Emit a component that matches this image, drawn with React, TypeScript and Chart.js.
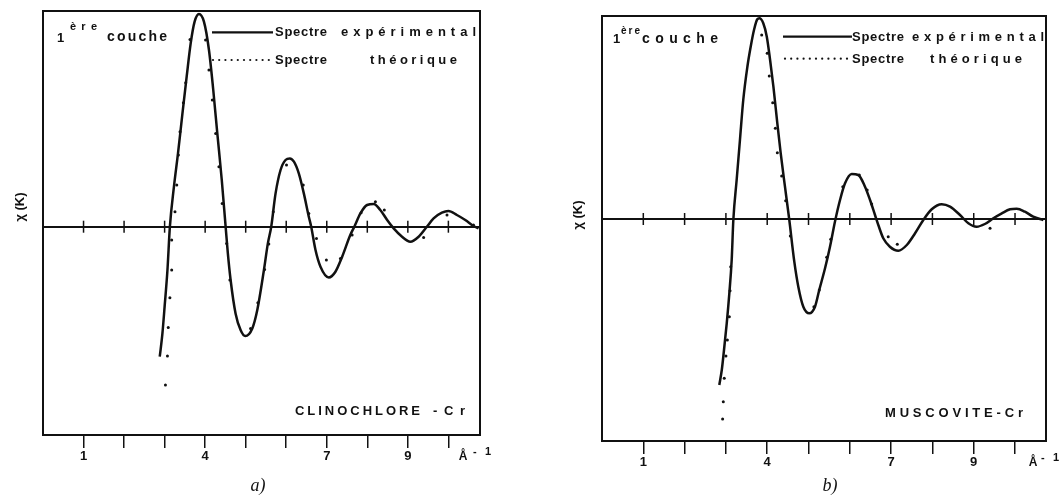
import React, { useEffect, useRef } from "react";
import { Chart, registerables } from "chart.js";
Chart.register(...registerables);

// ---------- data ----------
const K_TICKS = [1, 2, 3, 4, 5, 6, 7, 8, 9, 10];
const K_LABELS = [1, 4, 7, 9];

// Panel a) CLINOCHLORE-Cr
const A_K_EXP = [2.88, 2.946, 3.0, 3.07, 3.13, 3.23, 3.33, 3.44, 3.544, 3.643, 3.74, 3.848, 3.97, 4.094, 4.2, 4.3, 4.41, 4.505, 4.56, 4.628, 4.75, 4.874, 4.99, 5.163, 5.286, 5.45, 5.547, 5.63, 5.737, 5.86, 5.983, 6.09, 6.19, 6.31, 6.434, 6.557, 6.616, 6.722, 6.845, 7.05, 7.214, 7.38, 7.58, 7.68, 7.83, 7.995, 8.16, 8.32, 8.49, 8.65, 8.857, 9.06, 9.266, 9.47, 9.635, 9.84, 10.0, 10.21, 10.417, 10.62, 10.745];
const A_CHI_EXP = [-1.3, -1.067, -0.8, -0.433, 0, 0.4, 0.733, 1.133, 1.5, 1.833, 2.05, 2.127, 2.05, 1.767, 1.367, 0.933, 0.467, 0, -0.267, -0.533, -0.867, -1.033, -1.093, -1.017, -0.833, -0.433, -0.167, 0, 0.333, 0.567, 0.667, 0.683, 0.65, 0.533, 0.333, 0.1, 0, -0.233, -0.4, -0.507, -0.45, -0.3, -0.083, 0, 0.133, 0.217, 0.227, 0.167, 0.067, -0.017, -0.1, -0.15, -0.1, 0, 0.083, 0.14, 0.157, 0.117, 0.067, 0.007, -0.017];
const A_K_TH = [3.02, 3.07, 3.09, 3.13, 3.175, 3.175, 3.256, 3.3, 3.34, 3.38, 3.463, 3.52, 3.626, 4.01, 4.094, 4.177, 4.26, 4.34, 4.42, 4.53, 4.61, 5.12, 5.3, 5.466, 5.57, 5.68, 6.007, 6.42, 6.557, 6.746, 6.99, 7.337, 7.625, 7.847, 8.2, 8.42, 9.39, 9.966, 10.62];
const A_CHI_TH = [-1.583, -1.293, -1.007, -0.71, -0.433, -0.133, 0.15, 0.417, 0.717, 0.95, 1.24, 1.44, 1.873, 1.867, 1.567, 1.267, 0.933, 0.6, 0.233, -0.167, -0.533, -1.017, -0.76, -0.427, -0.173, 0.15, 0.617, 0.417, 0.133, -0.117, -0.333, -0.317, -0.083, 0.14, 0.25, 0.167, -0.107, 0.117, 0.017];

// Panel b) MUSCOVITE-Cr
const B_K_EXP = [2.84, 2.9, 2.954, 3.02, 3.083, 3.14, 3.18, 3.26, 3.34, 3.42, 3.52, 3.6, 3.68, 3.76, 3.81, 3.905, 3.99, 4.07, 4.15, 4.245, 4.327, 4.43, 4.535, 4.656, 4.753, 4.874, 5.02, 5.157, 5.26, 5.4, 5.52, 5.64, 5.763, 5.884, 6.045, 6.206, 6.368, 6.49, 6.61, 6.69, 6.81, 6.97, 7.175, 7.38, 7.58, 7.78, 7.983, 8.225, 8.426, 8.668, 8.87, 9.07, 9.27, 9.475, 9.68, 9.88, 10.04, 10.24, 10.44, 10.686];
const B_CHI_EXP = [-1.66, -1.51, -1.31, -1.043, -0.743, -0.41, -0.01, 0.39, 0.79, 1.19, 1.523, 1.723, 1.89, 1.997, 2.007, 1.957, 1.823, 1.59, 1.323, 0.957, 0.657, 0.323, -0.01, -0.427, -0.677, -0.877, -0.943, -0.877, -0.71, -0.493, -0.277, -0.027, 0.19, 0.357, 0.45, 0.44, 0.323, 0.19, 0.04, -0.06, -0.193, -0.277, -0.317, -0.26, -0.143, -0.01, 0.097, 0.147, 0.123, 0.04, -0.043, -0.077, -0.05, 0.007, 0.057, 0.097, 0.103, 0.073, 0.023, -0.01];
const B_K_TH = [2.92, 2.937, 2.96, 3.0, 3.035, 3.083, 3.1, 3.116, 3.867, 4.0, 4.05, 4.133, 4.197, 4.245, 4.35, 4.447, 4.56, 5.13, 5.26, 5.44, 5.537, 5.83, 6.23, 6.42, 6.53, 6.93, 7.15, 9.395];
const B_CHI_TH = [-2.0, -1.827, -1.593, -1.37, -1.21, -0.977, -0.717, -0.477, 1.84, 1.657, 1.43, 1.163, 0.907, 0.663, 0.43, 0.183, -0.17, -0.877, -0.71, -0.383, -0.203, 0.323, 0.44, 0.29, 0.15, -0.177, -0.253, -0.093];

const A_Y_RANGE = [-2.083, 2.157];
const B_Y_RANGE = [-2.22, 2.03];
const K_RANGE_A = [0, 10.78];
const K_RANGE_B = [0, 10.75];

// ---------- helpers ----------
const SANS = '"Liberation Sans", Arial, sans-serif';
const SERIF = '"Liberation Serif", "Times New Roman", serif';

type TextItem = { t: string; x0: number; x1?: number; y: number; size: number; center?: boolean };
type Panel = {
  left: number;
  width: number;
  area: { l: number; t: number; r: number; b: number };
  kRange: number[];
  yRange: number[];
  kExp: number[];
  chiExp: number[];
  kTh: number[];
  chiTh: number[];
  solid: number[];
  dotted: number[];
  texts: TextItem[];
  yTitle: number[];
  caption: number[];
  captionText: string;
};

function fitText(ctx: CanvasRenderingContext2D, it: TextItem) {
  ctx.font = `bold ${it.size}px ${SANS}`;
  ctx.textBaseline = "middle";
  ctx.textAlign = "left";
  const chars = Array.from(it.t);
  const widths = chars.map((c) => ctx.measureText(c).width);
  const total = widths.reduce((a, b) => a + b, 0);
  if (it.center || it.x1 === undefined || chars.length < 2) {
    const x = it.center ? it.x0 - total / 2 : it.x0;
    ctx.fillText(it.t, x, it.y);
    return;
  }
  const gap = (it.x1 - it.x0 - total) / (chars.length - 1);
  let x = it.x0;
  chars.forEach((c, i) => {
    ctx.fillText(c, x, it.y);
    x += widths[i] + gap;
  });
}

const PANELS: Panel[] = [
  {
    left: 0,
    width: 530,
    area: { l: 43, t: 11, r: 480, b: 435 },
    kRange: K_RANGE_A,
    yRange: A_Y_RANGE,
    kExp: A_K_EXP,
    chiExp: A_CHI_EXP,
    kTh: A_K_TH,
    chiTh: A_CHI_TH,
    solid: [212, 273, 32.3],
    dotted: [213, 272, 60],
    texts: [
      { t: "Spectre", x0: 275, x1: 327, y: 32, size: 13 },
      { t: "expérimental", x0: 341, x1: 476, y: 32, size: 13 },
      { t: "Spectre", x0: 275, x1: 327, y: 60, size: 13 },
      { t: "théorique", x0: 370, x1: 457, y: 60, size: 13 },
      { t: "1", x0: 57, y: 38, size: 13 },
      { t: "ère", x0: 70, x1: 97, y: 27, size: 11 },
      { t: "couche", x0: 107, x1: 167, y: 37.5, size: 14 },
      { t: "CLINOCHLORE", x0: 295, x1: 420, y: 411, size: 13 },
      { t: "-Cr", x0: 433, x1: 465, y: 411, size: 13 },
      { t: "Å", x0: 463, y: 457, size: 12, center: true },
      { t: "- 1", x0: 473, x1: 491, y: 452, size: 11 },
    ],
    yTitle: [20, 207],
    caption: [258, 491],
    captionText: "a)",
  },
  {
    left: 530,
    width: 529,
    area: { l: 72, t: 16, r: 516, b: 441 },
    kRange: K_RANGE_B,
    yRange: B_Y_RANGE,
    kExp: B_K_EXP,
    chiExp: B_CHI_EXP,
    kTh: B_K_TH,
    chiTh: B_CHI_TH,
    solid: [253, 322, 36.7],
    dotted: [255, 321, 58.7],
    texts: [
      { t: "Spectre", x0: 322, x1: 374, y: 37, size: 13 },
      { t: "expérimental", x0: 382, x1: 514, y: 37, size: 13 },
      { t: "Spectre", x0: 322, x1: 374, y: 59, size: 13 },
      { t: "théorique", x0: 400, x1: 492, y: 59, size: 13 },
      { t: "1", x0: 83, y: 39, size: 13 },
      { t: "ère", x0: 91, x1: 110, y: 31.5, size: 10 },
      { t: "couche", x0: 112, x1: 188, y: 39, size: 14 },
      { t: "MUSCOVITE-Cr", x0: 355, x1: 493, y: 413, size: 13 },
      { t: "Å", x0: 503, y: 463, size: 12, center: true },
      { t: "- 1", x0: 511, x1: 529, y: 458, size: 11 },
    ],
    yTitle: [48, 215],
    caption: [300, 491],
    captionText: "b)",
  },
];

function PanelChart({ p }: { p: Panel }) {
  const ref = useRef<HTMLCanvasElement | null>(null);
  useEffect(() => {
    const canvas = ref.current;
    if (!canvas) return;
    const H = 497;
    const deco = {
      id: "deco",
      afterDraw(chart: any) {
        const ctx: CanvasRenderingContext2D = chart.ctx;
        ctx.save();
        ctx.fillStyle = "#111";
        ctx.strokeStyle = "#111";
        ctx.lineWidth = 2.2;
        ctx.beginPath();
        ctx.moveTo(p.solid[0], p.solid[2]);
        ctx.lineTo(p.solid[1], p.solid[2]);
        ctx.stroke();
        for (let x = p.dotted[0]; x <= p.dotted[1]; x += 6.2) {
          ctx.beginPath();
          ctx.arc(x, p.dotted[2], 1.1, 0, Math.PI * 2);
          ctx.fill();
        }
        p.texts.forEach((it) => fitText(ctx, it));
        ctx.save();
        ctx.translate(p.yTitle[0], p.yTitle[1]);
        ctx.rotate(-Math.PI / 2);
        ctx.font = `bold 13px ${SANS}`;
        ctx.textAlign = "center";
        ctx.textBaseline = "middle";
        ctx.fillText("χ (K)", 0, 0);
        ctx.restore();
        ctx.font = `italic 18px ${SERIF}`;
        ctx.textAlign = "center";
        ctx.textBaseline = "alphabetic";
        ctx.fillText(p.captionText, p.caption[0], p.caption[1]);
        ctx.restore();
      },
    };
    const chart = new Chart(canvas, {
      type: "scatter",
      data: {
        datasets: [
          {
            label: "Spectre expérimental",
            data: p.kExp.map((k, i) => ({ x: k, y: p.chiExp[i] })),
            showLine: true,
            borderColor: "#111",
            borderWidth: 2.5,
            pointRadius: 0,
            cubicInterpolationMode: "monotone",
          } as any,
          {
            label: "Spectre théorique",
            data: p.kTh.map((k, i) => ({ x: k, y: p.chiTh[i] })),
            showLine: false,
            pointRadius: 1.5,
            pointBackgroundColor: "#111",
            pointBorderWidth: 0,
          } as any,
          {
            label: "ticks",
            data: K_TICKS.map((k) => ({ x: k, y: 0 })),
            showLine: false,
            pointStyle: "line",
            rotation: 90,
            pointRadius: 6,
            borderColor: "#111",
            borderWidth: 1.5,
          } as any,
        ],
      },
      options: {
        responsive: false,
        animation: false,
        devicePixelRatio: 1,
        layout: { padding: 0 },
        plugins: { legend: { display: false }, tooltip: { enabled: false } },
        events: [],
        scales: {
          x: {
            type: "linear",
            position: "bottom",
            min: p.kRange[0],
            max: p.kRange[1],
            afterBuildTicks: (s: any) => {
              s.ticks = K_TICKS.map((v) => ({ value: v }));
            },
            afterFit: (s: any) => {
              s.height = H - p.area.b;
            },
            ticks: {
              autoSkip: false,
              maxRotation: 0,
              padding: 1,
              color: "#111",
              font: { family: SANS, size: 13, weight: "bold" },
              callback: (v: any) => (K_LABELS.includes(Number(v)) ? String(v) : ""),
            },
            grid: { drawOnChartArea: false, drawTicks: true, tickLength: 13, color: "#111", lineWidth: 1.5 },
            border: { display: true, color: "#111", width: 2 },
          },
          xTop: {
            type: "linear",
            position: "top",
            min: p.kRange[0],
            max: p.kRange[1],
            ticks: { display: false },
            grid: { display: false },
            border: { display: true, color: "#111", width: 2 },
            afterFit: (s: any) => {
              s.height = p.area.t;
            },
          },
          y: {
            type: "linear",
            position: "left",
            min: p.yRange[0],
            max: p.yRange[1],
            afterBuildTicks: (s: any) => {
              s.ticks = [{ value: 0 }];
            },
            afterFit: (s: any) => {
              s.width = p.area.l;
            },
            ticks: { display: false },
            grid: { drawOnChartArea: true, drawTicks: false, color: "#111", lineWidth: 2 },
            border: { display: true, color: "#111", width: 2 },
          },
          yRight: {
            type: "linear",
            position: "right",
            min: p.yRange[0],
            max: p.yRange[1],
            ticks: { display: false },
            grid: { display: false },
            border: { display: true, color: "#111", width: 2 },
            afterFit: (s: any) => {
              s.width = p.width - p.area.r;
            },
          },
        },
      } as any,
      plugins: [deco],
    });
    return () => chart.destroy();
  }, [p]);
  return (
    <canvas
      ref={ref}
      width={p.width}
      height={497}
      style={{ position: "absolute", left: p.left, top: 0, width: p.width, height: 497 }}
    />
  );
}

export default function App() {
  return (
    <div style={{ position: "absolute", left: 0, top: 0, width: 1059, height: 497, background: "#fff", overflow: "hidden" }}>
      {PANELS.map((p, i) => (
        <PanelChart key={i} p={p} />
      ))}
    </div>
  );
}
